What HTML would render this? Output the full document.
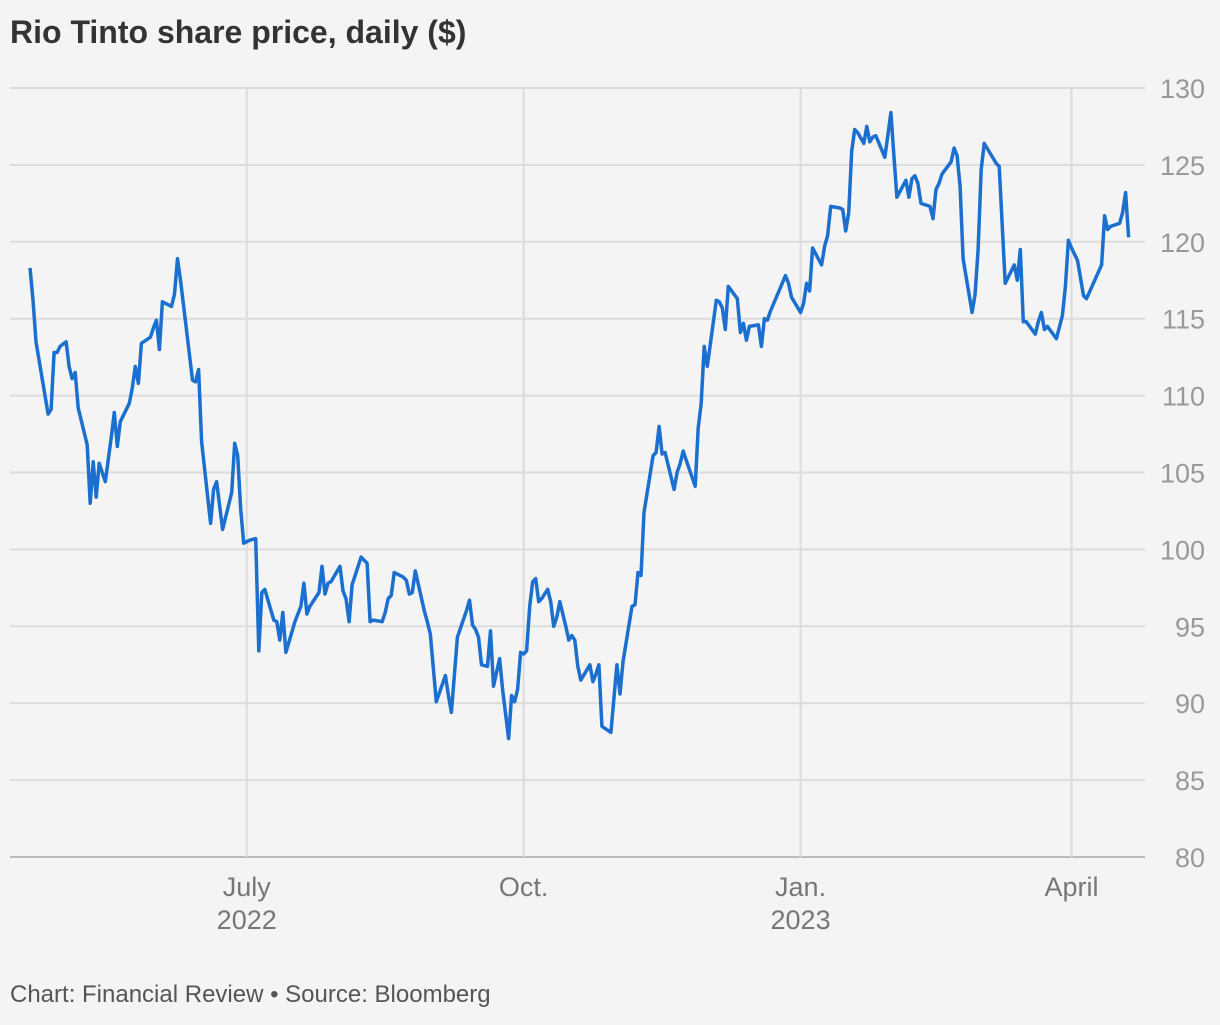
<!DOCTYPE html>
<html><head><meta charset="utf-8">
<style>
html,body{margin:0;padding:0;background:#f4f4f4;}
body{width:1220px;height:1020px;overflow:hidden;font-family:"Liberation Sans",sans-serif;}
</style></head>
<body>
<svg id="chart" width="1220" height="1020" xmlns="http://www.w3.org/2000/svg">
<rect width="1220" height="1020" fill="#f4f4f4"/>
<text x="10" y="43" font-size="32" font-weight="bold" fill="#333">Rio Tinto share price, daily ($)</text>
<g id="grid"></g><g id="axes"></g><g id="series"></g>
<text x="10" y="1002" font-size="24" fill="#555">Chart: Financial Review • Source: Bloomberg</text>
</svg>
<script>
const startDate = "2022-04-20";
const dayOffsets = [0,1,2,6,7,8,9,10,12,13,14,15,16,19,20,21,22,23,25,27,28,29,30,33,34,35,36,37,40,41,42,43,44,47,48,49,50,51,54,55,56,57,60,61,62,64,67,68,69,70,71,73,75,76,77,78,81,82,83,84,85,88,90,91,92,93,96,97,98,99,100,103,104,105,106,107,110,111,112,113,114,117,118,119,120,121,124,125,126,127,128,131,132,133,135,138,139,140,142,145,146,147,148,149,150,152,153,154,156,157,159,160,161,162,163,164,165,166,167,168,169,170,172,173,174,175,176,178,179,180,181,182,183,186,187,188,189,190,193,195,196,197,200,201,202,203,204,207,208,209,210,211,214,215,216,217,218,221,222,223,224,225,228,229,230,231,232,235,236,237,238,239,242,243,244,245,246,251,252,253,256,257,258,259,260,263,264,265,266,269,270,271,272,273,274,275,277,278,279,280,281,284,285,286,287,288,291,292,293,294,295,296,299,300,301,302,303,306,307,308,309,310,313,314,315,316,317,321,322,324,327,328,329,330,331,334,335,336,337,338,341,343,344,345,346,348,350,351,356,357,358,359,362,363,364,365];
const prices = [118.3,116.2,113.5,108.8,109.1,112.8,112.8,113.2,113.5,111.9,111.1,111.5,109.2,106.8,103.0,105.7,103.4,105.6,104.4,107.3,108.9,106.7,108.3,109.5,110.5,111.9,110.8,113.4,113.8,114.4,114.9,113.0,116.1,115.8,116.6,118.9,117.5,115.9,111.0,110.9,111.7,107.0,101.7,103.9,104.4,101.3,103.7,106.9,106.1,102.6,100.4,100.6,100.7,93.4,97.2,97.4,95.4,95.3,94.1,95.9,93.3,95.3,96.3,97.8,95.8,96.3,97.2,98.9,97.1,97.8,97.9,98.9,97.3,96.8,95.3,97.7,99.5,99.3,99.1,95.3,95.4,95.3,95.9,96.8,97.0,98.5,98.2,98.0,97.1,97.2,98.6,96.0,95.3,94.5,90.1,91.8,90.5,89.4,94.3,96.0,96.7,95.1,94.8,94.3,92.5,92.4,94.7,91.1,92.9,90.9,87.7,90.5,90.1,90.9,93.3,93.2,93.4,96.3,97.9,98.1,96.6,96.8,97.4,96.6,95.0,95.6,96.6,95.0,94.1,94.4,94.1,92.4,91.5,92.5,91.4,91.9,92.5,88.5,88.1,92.5,90.6,92.7,96.3,96.4,98.5,98.3,102.4,106.1,106.3,108.0,106.2,106.3,103.9,105.0,105.6,106.4,105.8,104.1,107.9,109.5,113.2,111.9,116.2,116.1,115.7,114.3,117.1,116.3,114.1,114.7,113.6,114.5,114.6,113.2,115.0,114.9,115.5,117.8,117.3,116.4,115.4,116.0,117.3,116.8,119.6,118.5,119.7,120.4,122.3,122.2,122.1,120.7,121.9,125.9,127.3,127.1,126.4,127.5,126.5,126.8,126.9,125.5,126.9,128.4,125.6,122.9,124.0,122.9,124.1,124.3,123.8,122.5,122.3,121.5,123.4,123.8,124.4,125.2,126.1,125.6,123.6,118.9,115.4,116.6,119.5,124.7,126.4,125.1,124.9,117.3,118.5,117.5,119.5,114.8,114.8,114.0,114.8,115.4,114.3,114.5,113.7,115.2,117.1,120.1,119.6,118.8,116.5,116.3,118.5,121.7,120.8,121.0,121.2,121.9,123.2,120.3];
const yTicks = [80,85,90,95,100,105,110,115,120,125,130];
const xTickDays = [72,164,256,346];
const xTickMonths = ["July","Oct.","Jan.","April"];
const xTickYears = ["2022","","2023",""];

const NS="http://www.w3.org/2000/svg";
const x = d => 30 + d*3.01;
const y = v => 857 - (v-80)*(769/50);
function mk(tag, attrs, parent){const e=document.createElementNS(NS,tag);for(const k in attrs)e.setAttribute(k,attrs[k]);parent.appendChild(e);return e;}
const grid=document.getElementById('grid'), axes=document.getElementById('axes'), series=document.getElementById('series');
yTicks.forEach(t=>{
  const l=mk('line',{x1:10,x2:1145,y1:y(t),y2:y(t),stroke:t===80?'#bbb':'#dcdcdc','stroke-width':2},grid);
  
  
  const tx=mk('text',{x:1205,y:y(t)+10,'font-size':27,fill:'#999','text-anchor':'end'},axes);
  tx.textContent=t;
  
  
});
xTickDays.forEach((d,i)=>{
  const l=mk('line',{x1:x(d),x2:x(d),y1:88,y2:857,stroke:'#dcdcdc','stroke-width':2},grid);
  
  
  const t1=mk('text',{x:x(d),y:896,'font-size':27,fill:'#777','text-anchor':'middle'},axes);
  t1.textContent=xTickMonths[i];
  
  
  if(xTickYears[i]){
    const t2=mk('text',{x:x(d),y:929,'font-size':27,fill:'#777','text-anchor':'middle'},axes);
    t2.textContent=xTickYears[i];
    
    
  }
});
const pts=dayOffsets.map((d,i)=>x(d).toFixed(1)+','+y(prices[i]).toFixed(1)).join(' ');
const line=mk('polyline',{points:pts,fill:'none',stroke:'#1a6fcf','stroke-width':3.5,'stroke-linejoin':'round'},series);


</script>
</body></html>
